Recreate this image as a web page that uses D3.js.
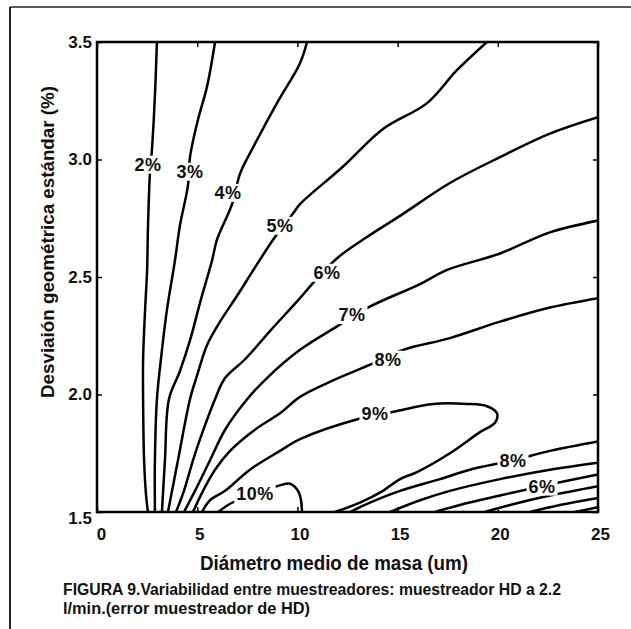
<!DOCTYPE html>
<html>
<head>
<meta charset="utf-8">
<script src="https://cdn.jsdelivr.net/npm/d3@7/dist/d3.min.js"></script>
<style>
  body { margin: 0; background: #fff; }
  text { font-family: "Liberation Sans", Arial, sans-serif; fill: #111; }
</style>
</head>
<body>
<div id="chart"></div>
<script>
// contour lines: [diametro medio (um), desviacion geometrica]
const c2 = [[2.99,3.50],[2.89,3.27],[2.74,3.04],[2.64,2.94],[2.54,2.70],[2.50,2.53],[2.40,2.36],[2.30,2.15],[2.30,1.98],[2.35,1.72],[2.45,1.57],[2.54,1.50]];
const c3 = [[5.89,3.50],[5.49,3.31],[5.04,3.17],[4.64,3.01],[4.54,2.89],[4.14,2.72],[3.89,2.57],[3.49,2.36],[3.19,2.15],[2.99,1.98],[2.89,1.72],[2.89,1.50]];
const c4 = [[10.48,3.50],[10.13,3.41],[8.98,3.24],[7.78,3.05],[7.14,2.94],[6.74,2.81],[5.99,2.66],[5.74,2.57],[5.14,2.39],[4.64,2.23],[4.14,2.10],[3.59,1.98],[3.39,1.72],[3.24,1.50]];
const c5 = [[19.46,3.50],[17.96,3.38],[16.47,3.24],[14.27,3.13],[12.28,2.97],[10.13,2.81],[9.78,2.77],[8.88,2.67],[7.88,2.54],[6.99,2.42],[6.14,2.31],[5.49,2.21],[4.99,2.08],[4.64,1.98],[4.04,1.72],[3.54,1.50]];
const c6 = [[25,3.18],[22.60,3.11],[20.11,3.01],[17.61,2.90],[15.12,2.76],[13.47,2.67],[11.98,2.58],[10.73,2.47],[10.13,2.41],[8.63,2.27],[7.39,2.15],[6.39,2.07],[5.89,1.98],[5.14,1.81],[4.79,1.72],[4.34,1.59],[3.94,1.50]];
const c7 = [[25,2.74],[22.60,2.69],[20.11,2.60],[17.47,2.53],[16.12,2.47],[13.52,2.37],[11.98,2.29],[10.13,2.19],[8.48,2.07],[7.49,1.98],[6.39,1.85],[5.64,1.72],[4.89,1.59],[4.34,1.50]];
const c8 = [[25,2.41],[22.60,2.37],[20.11,2.31],[17.61,2.24],[15.27,2.19],[13.72,2.13],[11.78,2.06],[10.13,1.99],[9.13,1.92],[7.88,1.85],[6.64,1.76],[5.89,1.68],[5.29,1.59],[4.79,1.50]];
const c9 = [[5.24,1.50],[5.64,1.55],[6.39,1.59],[7.63,1.68],[9.13,1.76],[10.13,1.81],[13.22,1.90],[14.97,1.93],[16.77,1.96],[18.46,1.96],[19.46,1.95],[19.96,1.92],[19.86,1.88],[19.11,1.84],[17.61,1.75],[15.97,1.67],[15.12,1.64],[14.27,1.59],[13.12,1.54],[11.88,1.50]];
const c10 = [[6.04,1.50],[6.54,1.53],[6.99,1.55],[7.88,1.59],[8.98,1.61],[9.63,1.62],[10.03,1.59],[10.18,1.55],[10.23,1.50]];
const c8b = [[25,1.80],[22.60,1.76],[20.76,1.72],[18.61,1.68],[17.12,1.64],[15.12,1.59],[13.62,1.54],[12.62,1.50]];
const c7b = [[25,1.71],[22.60,1.68],[20.11,1.64],[17.61,1.59],[16.12,1.55],[14.62,1.50]];
const c6b = [[25,1.66],[22.21,1.61],[20.11,1.57],[18.11,1.53],[16.87,1.50]];
const c5b = [[25,1.61],[22.60,1.57],[20.61,1.53],[19.36,1.50]];
const c4b = [[25,1.56],[23.10,1.53],[21.61,1.50]];
const c3b = [[25,1.52],[23.85,1.50]];

const contours = [c2, c3, c4, c5, c6, c7, c8, c9, c10, c8b, c7b, c6b, c5b, c4b, c3b];

// label text, x, y
const labelText = ["2%", "3%", "4%", "5%", "6%", "7%", "8%", "9%", "10%", "8%", "6%"];
const labelX = [2.54, 4.64, 6.54, 9.13, 11.48, 12.72, 14.52, 13.87, 7.88, 20.76, 22.21];
const labelY = [2.98, 2.95, 2.86, 2.72, 2.52, 2.34, 2.15, 1.92, 1.58, 1.72, 1.61];

const xTicks = [0, 5, 10, 15, 20, 25];
const yTicks = [1.5, 2.0, 2.5, 3.0, 3.5];

(function() {
  const width = 631;
  const height = 629;
  const pLeft = 97, pRight = 598, pTop = 42, pBottom = 512;

  const svg = d3.select("#chart")
    .append("svg")
    .attr("width", width)
    .attr("height", height);

  // page frame
  svg.append("line").attr("x1", 10).attr("x2", 10).attr("y1", 7).attr("y2", height)
    .style("stroke", "#222").style("stroke-width", 2);
  svg.append("line").attr("x1", 10).attr("x2", width).attr("y1", 7).attr("y2", 7)
    .style("stroke", "#222").style("stroke-width", 1.5);

  const x = d3.scaleLinear().domain([0, 25]).range([pLeft, pRight]);
  const y = d3.scaleLinear().domain([1.5, 3.5]).range([pBottom, pTop]);

  svg.append("clipPath").attr("id", "clip")
    .append("rect")
    .attr("x", pLeft).attr("y", pTop)
    .attr("width", pRight - pLeft).attr("height", pBottom - pTop);

  const line = d3.line()
    .x(d => x(d[0]))
    .y(d => y(d[1]))
    .curve(d3.curveCatmullRom.alpha(0.5));

  // draw the contours
  svg.append("g")
    .attr("clip-path", "url(#clip)")
    .selectAll("path")
    .data(contours)
    .join("path")
    .attr("d", line)
    .style("fill", "none")
    .style("stroke", "#000")
    .style("stroke-width", 2.5);

  // contour labels with a white box behind
  const lab = svg.append("g");
  labelText.forEach((t, i) => {
    const g = lab.append("g");
    const txt = g.append("text")
      .attr("x", x(labelX[i]))
      .attr("y", y(labelY[i]))
      .attr("dy", "0.36em")
      .attr("text-anchor", "middle")
      .style("font-size", "18px")
      .style("font-weight", "bold")
      .style("letter-spacing", "0.5px")
      .text(t);
    const b = txt.node().getBBox();
    g.insert("rect", "text")
      .attr("x", b.x - 2).attr("y", b.y + 1)
      .attr("width", b.width + 4).attr("height", b.height - 2)
      .style("fill", "#fff");
  });

  // axes, ticks pointing inward
  const styleAxis = (g) => {
    g.select(".domain").remove();
    g.selectAll("line").style("stroke", "#000").style("stroke-width", 1.5);
    g.selectAll("text")
      .style("font-size", "17px")
      .style("font-weight", "bold")
      .style("fill", "#111");
  };

  svg.append("g")
    .attr("transform", `translate(0,${pBottom})`)
    .call(d3.axisBottom(x).tickValues(xTicks).tickSize(-5).tickPadding(16).tickFormat(d3.format("d")))
    .call(styleAxis)
    .selectAll("text")
    .attr("dx", d => d === 0 ? 4 : 2);

  svg.append("g")
    .attr("transform", `translate(0,${pTop})`)
    .call(d3.axisTop(x).tickValues(xTicks).tickSize(-5).tickFormat(""))
    .call(styleAxis);

  svg.append("g")
    .attr("transform", `translate(${pLeft},0)`)
    .call(d3.axisLeft(y).tickValues(yTicks).tickSize(-5).tickPadding(5).tickFormat(d3.format(".1f")))
    .call(styleAxis)
    .selectAll("text")
    .attr("dy", d => d === 1.5 ? "0.7em" : "0.32em");

  svg.append("g")
    .attr("transform", `translate(${pRight},0)`)
    .call(d3.axisRight(y).tickValues(yTicks).tickSize(-5).tickFormat(""))
    .call(styleAxis);

  // plot frame
  svg.append("rect")
    .attr("x", pLeft).attr("y", pTop)
    .attr("width", pRight - pLeft).attr("height", pBottom - pTop)
    .style("fill", "none")
    .style("stroke", "#000")
    .style("stroke-width", 2.5);

  // axis titles
  svg.append("text")
    .attr("x", 334).attr("y", 570)
    .attr("text-anchor", "middle")
    .attr("textLength", 268)
    .attr("lengthAdjust", "spacingAndGlyphs")
    .style("font-size", "20px")
    .style("font-weight", "bold")
    .text("Diámetro medio de masa (um)");

  svg.append("text")
    .attr("transform", "translate(54,242) rotate(-90)")
    .attr("text-anchor", "middle")
    .attr("textLength", 312)
    .attr("lengthAdjust", "spacingAndGlyphs")
    .style("font-size", "18px")
    .style("font-weight", "bold")
    .text("Desviaión geométrica estándar (%)");

  // caption
  svg.append("text")
    .attr("x", 63).attr("y", 595)
    .attr("textLength", 498)
    .attr("lengthAdjust", "spacingAndGlyphs")
    .style("font-size", "16px")
    .style("font-weight", "bold")
    .text("FIGURA 9.Variabilidad entre muestreadores: muestreador HD a 2.2");

  svg.append("text")
    .attr("x", 63).attr("y", 614)
    .attr("textLength", 247)
    .attr("lengthAdjust", "spacingAndGlyphs")
    .style("font-size", "16px")
    .style("font-weight", "bold")
    .text("l/min.(error muestreador de HD)");
})();
</script>
</body>
</html>
